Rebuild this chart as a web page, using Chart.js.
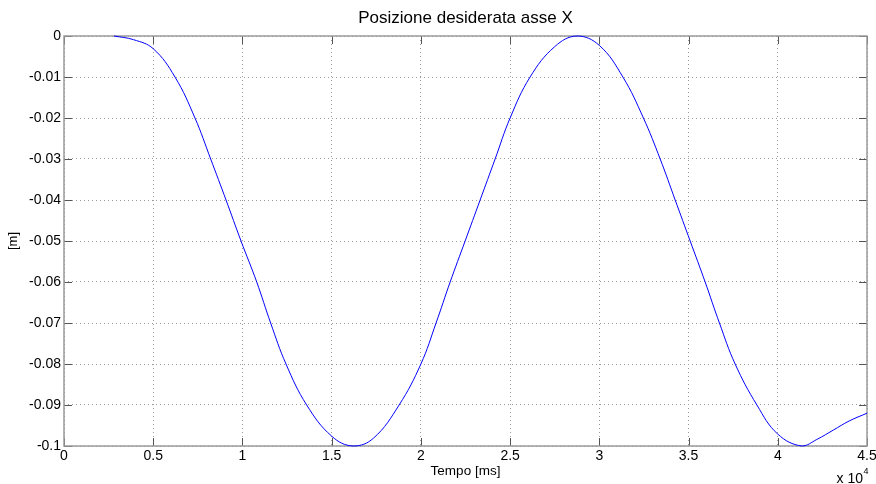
<!DOCTYPE html>
<html>
<head>
<meta charset="utf-8">
<script src="https://cdn.jsdelivr.net/npm/chart.js@4/dist/chart.umd.min.js"></script>
<style>
  body { margin: 0; background: #fff; }
  #wrap { width: 876px; height: 484px; }
</style>
</head>
<body>
<div id="wrap"><canvas id="posX"></canvas></div>
<script>
const fontFamily = "'Liberation Sans', Arial, Helvetica, sans-serif";
const lineBlue = "#0000ff";
const boxGray = "#9a9a9a";
const tickGray = "#555555";

// tempo [ms]
const timeMs = [
   2800, 3900, 5000, 6220, 7340, 8220, 9080, 9920, 10800, 11580,
   12440, 13600, 15000, 16200, 17340, 18780, 20000, 20850, 21640, 22480,
   23320, 24160, 25000, 26120, 27500, 28750, 30000, 31320, 32470, 33410,
   34250, 35090, 35930, 36730, 37610, 38830, 40000, 41350, 42190, 43120,
   44000, 45000
];

// posizione [m]
const posM = [
   0, -0.0009, -0.0031, -0.010, -0.020, -0.030, -0.040, -0.050, -0.060, -0.070,
   -0.080, -0.090, -0.0976, -0.1000, -0.0981, -0.090, -0.080, -0.070, -0.060, -0.050,
   -0.040, -0.030, -0.020, -0.010, -0.0026, 0, -0.0023, -0.010, -0.020, -0.030,
   -0.040, -0.050, -0.060, -0.070, -0.080, -0.090, -0.0971, -0.1000, -0.0984, -0.0961,
   -0.0939, -0.0920
];

const xTicks = [0, 5000, 10000, 15000, 20000, 25000, 30000, 35000, 40000, 45000];
const yTicks = [0, -0.01, -0.02, -0.03, -0.04, -0.05, -0.06, -0.07, -0.08, -0.09, -0.1];

const points = timeMs.map((t, i) => ({ x: t, y: posM[i] }));

// box, inward ticks and the x 10^4 exponent, matlab style
const matlabFrame = {
   id: "matlabFrame",
   beforeDatasetsDraw(chart) {
      const { ctx, chartArea: a, scales } = chart;
      const len = 8;
      ctx.save();
      ctx.strokeStyle = tickGray;
      ctx.lineWidth = 1;
      ctx.beginPath();
      xTicks.forEach(v => {
         const px = Math.round(scales.x.getPixelForValue(v)) + 0.5;
         ctx.moveTo(px, a.bottom);
         ctx.lineTo(px, a.bottom - len);
         ctx.moveTo(px, a.top);
         ctx.lineTo(px, a.top + len);
      });
      yTicks.forEach(v => {
         const py = Math.round(scales.y.getPixelForValue(v)) + 0.5;
         ctx.moveTo(a.left, py);
         ctx.lineTo(a.left + len, py);
         ctx.moveTo(a.right, py);
         ctx.lineTo(a.right - len, py);
      });
      ctx.stroke();
      ctx.strokeStyle = boxGray;
      ctx.lineWidth = 1.5;
      ctx.strokeRect(a.left, a.top, a.right - a.left, a.bottom - a.top);
      ctx.fillStyle = "#000";
      ctx.textBaseline = "alphabetic";
      ctx.textAlign = "left";
      ctx.font = "14px " + fontFamily;
      ctx.fillText("x 10", 836.5, 482.5);
      ctx.font = "9px " + fontFamily;
      ctx.fillText("4", 863.5, 473.5);
      ctx.restore();
   }
};

new Chart("posX", {
   type: "line",
   data: {
      datasets: [
         {
            data: points,
            borderColor: lineBlue,
            borderWidth: 1,
            pointRadius: 0,
            fill: false,
            tension: 0.4,
            clip: 3
         }
      ]
   },
   options: {
      responsive: true,
      maintainAspectRatio: false,
      animation: false,
      events: [],
      layout: { padding: { left: 0, right: 9, top: 0, bottom: 0 } },
      plugins: {
         legend: { display: false },
         tooltip: { enabled: false },
         title: {
            display: true,
            text: "Posizione desiderata asse X",
            color: "#000",
            fullSize: false,
            font: { family: fontFamily, size: 17, weight: "normal" },
            padding: { top: 8, bottom: 7.6 }
         }
      },
      scales: {
         x: {
            type: "linear",
            min: 0,
            max: 45000,
            afterBuildTicks(scale) {
               scale.ticks = xTicks.map(v => ({ value: v }));
            },
            afterFit(scale) {
               scale.height = 38;
               scale.paddingLeft = 0;
               scale.paddingRight = 0;
            },
            ticks: {
               color: "#000",
               padding: 2,
               maxRotation: 0,
               autoSkip: false,
               font: { family: fontFamily, size: 14 },
               callback: v => String(v / 10000)
            },
            grid: { color: "#9a9a9a", drawTicks: false, lineWidth: 1 },
            border: { display: false, dash: [1, 3] },
            title: {
               display: true,
               text: "Tempo [ms]",
               color: "#000",
               font: { family: fontFamily, size: 13.5 },
               padding: { top: 0, bottom: 5 }
            }
         },
         y: {
            type: "linear",
            min: -0.1,
            max: 0,
            afterBuildTicks(scale) {
               scale.ticks = yTicks.map(v => ({ value: v }));
            },
            afterFit(scale) {
               scale.width = 64;
               scale.paddingTop = 0;
               scale.paddingBottom = 0;
            },
            ticks: {
               color: "#000",
               padding: 3,
               autoSkip: false,
               font: { family: fontFamily, size: 14 },
               callback: v => String(Number(v.toFixed(2)) || 0)
            },
            grid: { color: "#9a9a9a", drawTicks: false, lineWidth: 1 },
            border: { display: false, dash: [1, 3] },
            title: {
               display: true,
               text: "[m]",
               color: "#000",
               font: { family: fontFamily, size: 13 },
               padding: { top: 6, bottom: 0 }
            }
         }
      }
   },
   plugins: [matlabFrame]
});
</script>
</body>
</html>
